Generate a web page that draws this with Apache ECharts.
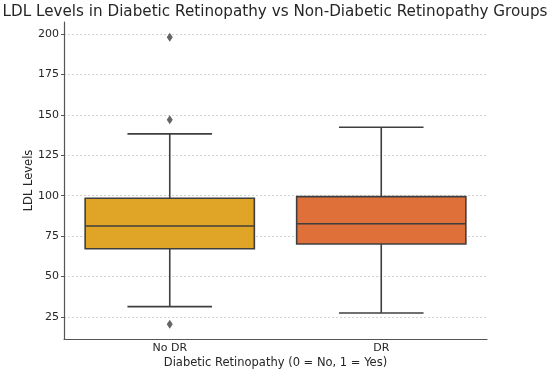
<!DOCTYPE html>
<html>
<head>
<meta charset="utf-8">
<script src="https://cdn.jsdelivr.net/npm/echarts@6/dist/echarts.min.js"></script>
<style>html,body{margin:0;padding:0;background:#fff;}#c{width:550px;height:371px;}</style>
</head>
<body>
<div id="c"></div>
<script>
const categories = ['No DR', 'DR'];
const whiskerLow = [31.4, 27.5];
const q1 = [67.2, 70.1];
const median = [81.3, 82.7];
const q3 = [98.4, 99.4];
const whiskerHigh = [138.2, 142.3];
const outlierCategory = [0, 0, 0];
const outlierValues = [198, 147, 20.5];
const yTicks = [25, 50, 75, 100, 125, 150, 175, 200];
const boxColors = ['#E0A426', '#DF7039'];

const FONT = 'DejaVu Sans';
const EDGE = '#3f3f3f';

const boxData = categories.map((c, i) => [i, whiskerLow[i], q1[i], median[i], q3[i], whiskerHigh[i]]);
const outlierData = outlierCategory.map((c, i) => [c, outlierValues[i]]);

const chart = echarts.init(document.getElementById('c'), null, {renderer: 'canvas'});
chart.setOption({
  animation: false,
  backgroundColor: '#fff',
  title: {
    text: 'LDL Levels in Diabetic Retinopathy vs Non-Diabetic Retinopathy Groups',
    left: 'center', top: 0,
    textStyle: {fontFamily: FONT, fontSize: 15.2, fontWeight: 'normal', color: '#262626'}
  },
  grid: {left: 64, right: 63, top: 22, bottom: 32, outerBoundsMode: 'none', containLabel: false},
  xAxis: {
    type: 'category',
    data: categories,
    boundaryGap: true,
    name: 'Diabetic Retinopathy (0 = No, 1 = Yes)',
    nameLocation: 'middle', nameGap: 18, nameMoveOverlap: false,
    nameTextStyle: {fontFamily: FONT, fontSize: 11.5, color: '#262626'},
    axisLine: {lineStyle: {color: '#555', width: 1.2}},
    axisTick: {alignWithLabel: true, length: 3, lineStyle: {color: '#555'}},
    axisLabel: {fontFamily: FONT, fontSize: 11, color: '#262626', margin: 4},
    splitLine: {show: false}
  },
  yAxis: {
    type: 'value',
    min: 11.4, max: 207.4,
    name: 'LDL Levels',
    nameLocation: 'middle', nameGap: 29, nameMoveOverlap: false,
    nameTextStyle: {fontFamily: FONT, fontSize: 11.5, color: '#262626'},
    axisLine: {show: true, lineStyle: {color: '#555', width: 1.2}},
    axisTick: {show: true, length: 3, customValues: yTicks, lineStyle: {color: '#555'}},
    axisLabel: {fontFamily: FONT, fontSize: 11, color: '#262626', margin: 5, customValues: yTicks},
    splitLine: {show: true, lineStyle: {color: '#c8c8c8', type: [2, 2], width: 0.8}}
  },
  series: [
    {
      type: 'custom',
      data: boxData,
      encode: {x: 0, y: [1, 2, 3, 4, 5]},
      renderItem: function (params, api) {
        const i = api.value(0);
        const bw = api.size([1, 0])[0];
        const pLow = api.coord([i, api.value(1)]);
        const pQ1 = api.coord([i, api.value(2)]);
        const pMed = api.coord([i, api.value(3)]);
        const pQ3 = api.coord([i, api.value(4)]);
        const pHigh = api.coord([i, api.value(5)]);
        const cx = pMed[0];
        const hb = bw * 0.4;
        const hc = bw * 0.2;
        const ls = {stroke: EDGE, lineWidth: 1.6};
        return {
          type: 'group',
          children: [
            {type: 'line', shape: {x1: cx, y1: pQ3[1], x2: cx, y2: pHigh[1]}, style: ls},
            {type: 'line', shape: {x1: cx, y1: pQ1[1], x2: cx, y2: pLow[1]}, style: ls},
            {type: 'line', shape: {x1: cx - hc, y1: pHigh[1], x2: cx + hc, y2: pHigh[1]}, style: ls},
            {type: 'line', shape: {x1: cx - hc, y1: pLow[1], x2: cx + hc, y2: pLow[1]}, style: ls},
            {type: 'rect', shape: {x: cx - hb, y: pQ3[1], width: 2 * hb, height: pQ1[1] - pQ3[1]},
              style: {fill: boxColors[i], stroke: EDGE, lineWidth: 1.6}},
            {type: 'line', shape: {x1: cx - hb, y1: pMed[1], x2: cx + hb, y2: pMed[1]}, style: ls}
          ]
        };
      },
      z: 3
    },
    {
      type: 'scatter',
      data: outlierData,
      symbol: 'diamond',
      symbolSize: [6, 9],
      itemStyle: {color: EDGE},
      z: 4
    }
  ]
});
</script>
</body>
</html>
